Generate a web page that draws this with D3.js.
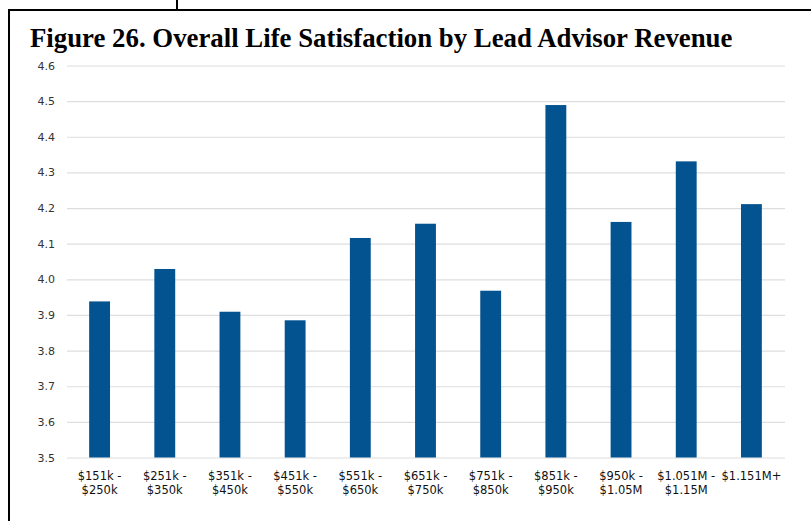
<!DOCTYPE html>
<html>
<head>
<meta charset="utf-8">
<script src="https://cdn.jsdelivr.net/npm/d3@7"></script>
<style>
html,body{margin:0;padding:0;background:#fff;}
svg{display:block;}
</style>
</head>
<body>
<svg id="chart" width="811" height="521"></svg>
<script>
const categories = [
  ["$151k -", "$250k"],
  ["$251k -", "$350k"],
  ["$351k -", "$450k"],
  ["$451k -", "$550k"],
  ["$551k -", "$650k"],
  ["$651k -", "$750k"],
  ["$751k -", "$850k"],
  ["$851k -", "$950k"],
  ["$950k -", "$1.05M"],
  ["$1.051M -", "$1.15M"],
  ["$1.151M+"]
];
const values = [3.938, 4.029, 3.909, 3.885, 4.116, 4.156, 3.968, 4.489, 4.161, 4.331, 4.211];
const yTicks = [3.5, 3.6, 3.7, 3.8, 3.9, 4.0, 4.1, 4.2, 4.3, 4.4, 4.5, 4.6];
const title = "Figure 26. Overall Life Satisfaction by Lead Advisor Revenue";

const svg = d3.select("#chart");

// frame
svg.append("path")
  .attr("d", "M9,521 L9,10 L811,10")
  .attr("fill", "none").attr("stroke", "#000").attr("stroke-width", 2);
svg.append("line")
  .attr("x1", 177).attr("x2", 177).attr("y1", 0).attr("y2", 10)
  .attr("stroke", "#000").attr("stroke-width", 2);

svg.append("text")
  .attr("x", 30).attr("y", 46.5)
  .attr("font-family", "'Liberation Serif', 'Times New Roman', serif")
  .attr("font-weight", "bold").attr("font-size", 26.8)
  .attr("fill", "#000")
  .text(title);

const x = d3.scaleBand()
  .domain(d3.range(categories.length))
  .range([67, 784])
  .paddingInner(0.68).paddingOuter(0.34);

const y = d3.scaleLinear().domain([3.5, 4.6]).range([457.5, 65.5]);

// grid + y labels
const yAxis = d3.axisLeft(y).tickValues(yTicks).tickSize(-(785 - 67)).tickFormat(d3.format(".1f"));
const gy = svg.append("g").attr("transform", "translate(67,0)").call(yAxis);
gy.select(".domain").remove();
gy.selectAll(".tick line").attr("stroke", "#dedede").attr("stroke-width", 1.2);
gy.selectAll(".tick text")
  .attr("x", -12)
  .attr("fill", "#333")
  .attr("font-family", "'DejaVu Sans', sans-serif")
  .attr("font-size", 11);

// bars
svg.append("g").selectAll("rect")
  .data(values)
  .join("rect")
  .attr("x", (d, i) => x(i))
  .attr("width", x.bandwidth())
  .attr("y", d => y(d))
  .attr("height", d => y(3.5) - y(d))
  .attr("fill", "#02538f");

// x labels
const gx = svg.append("g").attr("transform", `translate(0,${y(3.5)})`)
  .call(d3.axisBottom(x).tickSize(0).tickFormat(""));
gx.select(".domain").remove();
gx.selectAll(".tick").each(function(d) {
  const t = d3.select(this).append("text")
    .attr("text-anchor", "middle")
    .attr("fill", "#111")
    .attr("font-family", "'DejaVu Sans', sans-serif")
    .attr("font-size", 11.5);
  categories[d].forEach((line, k) => {
    t.append("tspan").attr("x", 0).attr("y", 22 + k * 14).text(line);
  });
});
</script>
</body>
</html>
